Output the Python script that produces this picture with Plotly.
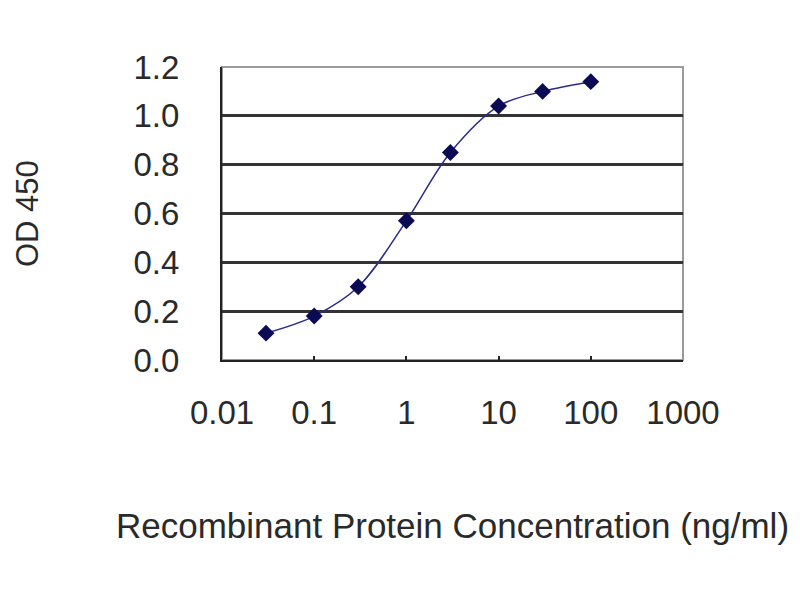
import plotly.graph_objects as go

# ELISA standard curve
concentration = [0.03, 0.1, 0.3, 1, 3, 10, 30, 100]
od_450 = [0.11, 0.18, 0.30, 0.57, 0.85, 1.04, 1.10, 1.14]

x_ticks = [0.01, 0.1, 1, 10, 100, 1000]
x_tick_labels = ["0.01", "0.1", "1", "10", "100", "1000"]
y_ticks = [0.0, 0.2, 0.4, 0.6, 0.8, 1.0, 1.2]

FONT = "Liberation Sans, Arial, sans-serif"
TEXT = "#2a2a2a"

fig = go.Figure()

fig.add_trace(go.Scatter(
    x=concentration,
    y=od_450,
    mode="lines+markers",
    line=dict(color="#2b2b8a", width=1.5, shape="spline", smoothing=1),
    marker=dict(symbol="diamond", size=13, color="#0b0b55"),
    showlegend=False
))

# grey frame round the plot area (left and bottom axis lines are black)
fig.add_shape(type="rect", xref="paper", yref="paper", x0=0, y0=0, x1=1, y1=1,
              line=dict(color="#9a9a9a", width=2), layer="below")

# y title as an annotation so it can sit right at the page edge
fig.add_annotation(text="OD 450", textangle=-90, showarrow=False,
                   xref="paper", yref="paper", x=-214 / 461, y=0.5,
                   xanchor="left", yanchor="middle",
                   font=dict(size=31, family=FONT, color=TEXT))

fig.update_layout(
    width=800,
    height=600,
    margin=dict(l=214, r=125, t=59, b=248),
    plot_bgcolor="white",
    paper_bgcolor="white",
    font=dict(family=FONT, color=TEXT, size=33),
    xaxis=dict(
        type="log",
        range=[-2, 3],
        tickvals=x_ticks,
        ticktext=x_tick_labels,
        showgrid=False,
        showline=True,
        linecolor="#222222",
        linewidth=2,
        ticks="inside",
        ticklen=4,
        tickwidth=2,
        tickcolor="#222222",
        ticklabelstandoff=22,
        title=dict(text="Recombinant Protein Concentration (ng/ml)",
                   font=dict(size=35), standoff=84),
        automargin=False,
        zeroline=False
    ),
    yaxis=dict(
        range=[0, 1.2],
        tickvals=y_ticks,
        tickformat=".1f",
        showgrid=True,
        gridcolor="#333333",
        gridwidth=2.5,
        showline=True,
        linecolor="#222222",
        linewidth=2,
        ticks="",
        ticklabelstandoff=34,
        automargin=False,
        zeroline=False
    )
)

fig.write_html("out.html")
